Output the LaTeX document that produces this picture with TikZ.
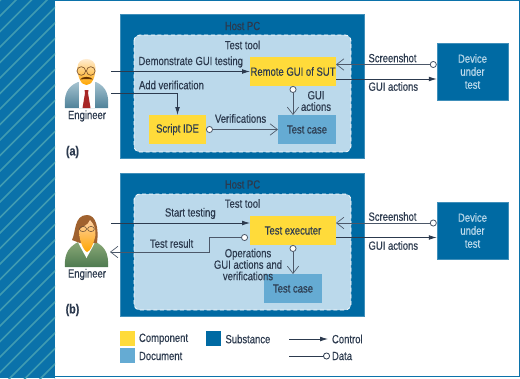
\documentclass[tikz,border=0pt]{standalone}
\usepackage{fontspec}
\setmainfont[FakeStretch=0.8,FakeBold=0.35]{Liberation Sans}
\usetikzlibrary{arrows.meta}
\definecolor{strip}{HTML}{0B72AA}
\definecolor{stripline}{HTML}{3F9BB2}
\definecolor{hostblue}{HTML}{006AA3}
\definecolor{toolblue}{HTML}{BBD9EB}
\definecolor{compyellow}{HTML}{FFDB3A}
\definecolor{docblue}{HTML}{65ABD3}
\definecolor{ink}{HTML}{2C3A4E}
\definecolor{suit}{HTML}{7FA9BC}
\definecolor{suitdark}{HTML}{4F8299}
\definecolor{jacket}{HTML}{8CAA78}
\definecolor{jacketdark}{HTML}{4E7A50}
\definecolor{hair}{HTML}{A0622F}
\tikzset{
  x=0.75pt,y=-0.75pt,
  every node/.style={font=\fontsize{8.9}{9}\selectfont,text=ink,inner sep=0pt,outer sep=0pt},
  lab/.style={anchor=west},
  hostbox/.style={fill=hostblue,draw=hostblue!75!white,line width=0.4pt},
  toolbox/.style={fill=toolblue,draw=white,densely dashed,line width=0.6pt,rounded corners=4.5pt},
  comp/.style={fill=compyellow,minimum height=21.75pt},
  docu/.style={fill=docblue,minimum height=21.75pt,minimum width=43.5pt},
  device/.style={fill=hostblue,draw=hostblue!75!white,line width=0.4pt,minimum width=53.6pt,minimum height=42.75pt,
    text=toolblue,align=center,font=\fontsize{8.9}{9.75}\selectfont},
  swatch/.style={minimum width=11pt,minimum height=11pt},
  control/.style={draw=ink,line width=0.6pt,-{Latex[length=6pt,width=3.6pt]}},
  data/.style={draw=ink!85!white,line width=0.6pt,{Circle[open,fill=white,length=5.2pt,width=5.2pt]}-{Straight Barb[length=5.5pt,width=8.5pt,line width=0.5pt]}},
  dataend/.style={draw=ink,line width=0.6pt,-{Circle[open,fill=white,length=5.2pt,width=5.2pt]}},
}
\begin{document}
\begin{tikzpicture}
\useasboundingbox (0,0) rectangle (520,378);
% page background and hatched margin
\fill[white] (0,0) rectangle (520,378);
\fill[strip] (0,0) rectangle (55,378);
\begin{scope}
  \clip (0,0) rectangle (55,378);
  \foreach \k in {0,...,30} {
    \draw[stripline,line width=1.1pt] (-10,{\k*15.5-5}) -- ++(75,-75);
  }
\end{scope}
\draw[strip,line width=0.9pt] (55,0.6) -- (519.4,0.6) -- (519.4,376.6) -- (55,376.6);

% host PC panels
\fill[hostbox,draw=hostblue!75!white] (120,14) rectangle (364.5,158);
\fill[hostbox,draw=hostblue!75!white] (120,173) rectangle (364.5,316.5);
\draw[toolbox] (134,35) rectangle (351,152);
\draw[toolbox] (134,194) rectangle (351,310);

\node (hosta) at (242.5,26) {Host PC};
\node (toola) at (242.5,45) {Test tool};
\node (hostb) at (242.5,184.5) {Host PC};
\node (toolb) at (242.5,203.5) {Test tool};

% upper row of boxes
\node[comp,minimum width=64.5pt] (rem) at (293,71.5) {Remote GUI of SUT};
\node[comp,minimum width=42.75pt] (ide) at (177.5,129.5) {Script IDE};
\node[docu] (tca) at (307,129.5) {Test case};
\node[device] (deva) at (472.5,71.5) {Device\\under\\test};

% lower row of boxes
\node[comp,minimum width=64.5pt] (exe) at (293,230.5) {Test executer};
\node[docu] (tcb) at (293,288.5) {Test case};
\node[device] (devb) at (472.5,230.5) {Device\\under\\test};

% the two engineers
\begin{scope}
  \shade[top color=suit!70!white,bottom color=suitdark]
    (65,108) .. controls (64,96) and (66,87) .. (78,82) -- (96,82)
    .. controls (107,87) and (109,96) .. (108,108) -- cycle;
  \fill[white] (79,81) -- (95,81) -- (95,108) -- (79,108) -- cycle;
  \shade[top color=white!92!orange,bottom color=orange!70!yellow]
    (77.5,68) .. controls (77,56) and (96,56) .. (95.5,68)
    .. controls (95.5,77) and (92,85) .. (86.5,85)
    .. controls (81,85) and (77.5,77) .. (77.5,68) -- cycle;
  \fill[red!60!black!85!white] (84.5,90) -- (88.5,90) -- (88,93) -- (90.5,108) -- (82.5,108) -- (85,93) -- cycle;
  \draw[ink!60!orange,line width=0.5pt] (81.3,71) circle[radius=4.3] (90.8,71) circle[radius=4.3];
  \fill[black!60!orange] (80,79.5) .. controls (82,76) and (91,76) .. (93,79.5)
    .. controls (90,79) and (83,79) .. (80,79.5) -- cycle;
\end{scope}
\begin{scope}
  \shade[top color=jacket,bottom color=jacketdark]
    (65,267) .. controls (64,252) and (70,246) .. (80,241) -- (94,241)
    .. controls (104,246) and (109,252) .. (108,267) -- cycle;
  \fill[white] (77,240) -- (96,240) -- (92,248) -- (86.5,258) -- (81,248) -- cycle;
  \fill[hair] (72,240) .. controls (76,232) and (74,215) .. (87,215)
    .. controls (96,215) and (99,228) .. (97,243)
    -- (80,243) -- cycle;
  \shade[top color=orange!35!white,bottom color=orange!70!yellow]
    (79,230) .. controls (82,226) and (88,226) .. (90,220)
    .. controls (94,224) and (96,230) .. (95.5,235)
    .. controls (94,243) and (90,252) .. (87,252)
    .. controls (83,250) and (79,240) .. (79,230) -- cycle;
  \draw[ink!70!orange,line width=0.4pt] (83,229) ellipse[x radius=3.6,y radius=2.6] (91,229) ellipse[x radius=3.4,y radius=2.6];
\end{scope}
\node (enga) at (87,116) {Engineer};
\node (engb) at (87,274.5) {Engineer};
\node[font=\fontsize{10}{10}\selectfont\bfseries] (pa) at (72.5,152) {(a)};
\node[font=\fontsize{10}{10}\selectfont\bfseries] (pb) at (72.5,310) {(b)};

% row heights and free ends of the connectors
\coordinate (mana) at (111,71.5);
\coordinate (manb) at (111,93);
\coordinate (ws) at (111,223);
\coordinate (wr) at (110,252);
\coordinate (rowshota) at (0,64.5);
\coordinate (rowguia) at (0,79);
\coordinate (rowshotb) at (0,223);
\coordinate (rowguib) at (0,237.5);
\coordinate (bend) at (209.5,252);

% connectors of the upper panel
\draw[control] (mana) -- (rem.west |- mana);
\draw[control] (manb) -| (ide.north);
\draw[data] (ide.east) -- (tca.west);
\draw[data] (rem.south) -- (rem.south |- tca.north);
\draw[data] (deva.west |- rowshota) -- (rem.east |- rowshota);
\draw[control] (rem.east |- rowguia) -- (deva.west |- rowguia);

% connectors of the lower panel
\draw[control] (ws) -- (exe.west |- ws);
\draw[data,shorten <=1.5pt] (exe.west |- rowguib) -| (bend) -- (wr);
\draw[data] (exe.south) -- (tcb.north);
\draw[data] (devb.west |- rowshotb) -- (exe.east |- rowshotb);
\draw[control] (exe.east |- rowguib) -- (devb.west |- rowguib);

% connector labels
\node[lab] (l1) at (138.5,62) {Demonstrate GUI testing};
\node[lab] (l2) at (139,85) {Add verification};
\node[lab] (l3) at (215,118.5) {Verifications};
\node[align=center,font=\fontsize{8.9}{8.6}\selectfont] (l4) at (316,101) {GUI\\actions};
\node[lab] (l5) at (368.5,58) {Screenshot};
\node[lab] (l6) at (368.5,86.5) {GUI actions};
\node[lab] (l7) at (165,213.5) {Start testing};
\node[lab] (l8) at (150,243.5) {Test result};
\node[align=center,font=\fontsize{8.9}{8.6}\selectfont] (l9) at (248,264.5) {Operations\\GUI actions and\\verifications};
\node[lab] (l10) at (368.5,216.5) {Screenshot};
\node[lab] (l11) at (368.5,245.5) {GUI actions};

% key
\node[swatch,fill=compyellow] (kc) at (127.3,338.8) {};
\node[swatch,fill=docblue] (kd) at (127.3,355.8) {};
\node[swatch,fill=hostblue] (ks) at (213.5,338.8) {};
\node[lab] (kct) at (139,339) {Component};
\node[lab] (kdt) at (139,356) {Document};
\node[lab] (kst) at (225.5,339) {Substance};
\node[lab] (klc) at (332,339) {Control};
\node[lab] (kld) at (332,356) {Data};
\coordinate (kl1) at (289,339);
\coordinate (kl2) at (289,356);
\draw[control] (kl1) -- ([xshift=-3pt]klc.west);
\draw[dataend] (kl2) -- ([xshift=-1.5pt]kld.west);
\end{tikzpicture}
\end{document}
